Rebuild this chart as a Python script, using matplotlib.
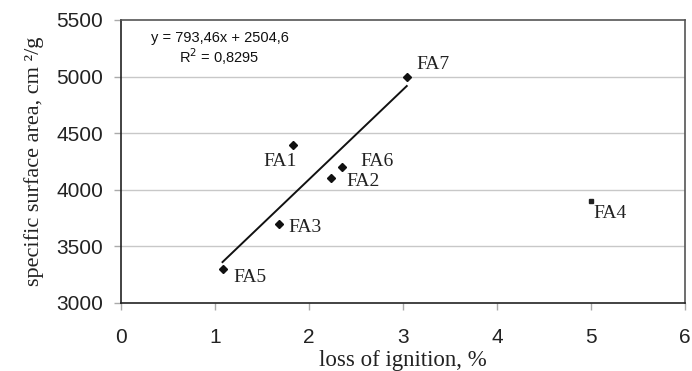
import matplotlib
matplotlib.use("Agg")
import matplotlib.pyplot as plt
import numpy as np

labels = ["FA1", "FA2", "FA3", "FA4", "FA5", "FA6", "FA7"]
loi = [1.83, 2.23, 1.68, 5.0, 1.08, 2.35, 3.04]
ssa = [4400, 4100, 3700, 3900, 3300, 4200, 5000]
slope, intercept = 793.46, 2504.6
r2 = 0.8295
xticks = [0, 1, 2, 3, 4, 5, 6]
yticks = [3000, 3500, 4000, 4500, 5000, 5500]

# label offsets in points (dx, dy, ha)
offsets = {
    "FA1": (3, -12, "right"),
    "FA2": (11.5, -2, "left"),
    "FA3": (6.5, -3, "left"),
    "FA4": (2, -9, "left"),
    "FA5": (8, -6, "left"),
    "FA6": (13, 4, "left"),
    "FA7": (7, 8.5, "left"),
}

fig = plt.figure(figsize=(6.92, 3.71), dpi=100)
ax = fig.add_axes([121/692, 1-303/371, (685-121)/692, (303-20)/371])

serif = ["Liberation Serif", "DejaVu Serif"]
sans = ["Liberation Sans", "DejaVu Sans"]

for yv in yticks[1:-1]:
    ax.axhline(yv, color="#c8c8c8", lw=1.0, zorder=0)

for lab, xv, yv in zip(labels, loi, ssa):
    if lab == "FA4":
        ax.plot(xv, yv, marker="s", ms=3.5, color="#222222", ls="none", zorder=3)
    else:
        ax.plot(xv, yv, marker="D", ms=4, color="#111111", ls="none", zorder=3)
    dx, dy, ha = offsets[lab]
    ax.annotate(lab, (xv, yv), xytext=(dx, dy), textcoords="offset points",
                ha=ha, va="center", fontsize=14, family=serif, color="#222222")

fit_x = [x for x, l in zip(loi, labels) if l != "FA4"]
xl = np.array([min(fit_x), max(fit_x)])
ax.plot(xl, slope * xl + intercept, color="#111111", lw=1.4, zorder=2)

ax.text(0.175, 0.936, "y = 793,46x + 2504,6", transform=ax.transAxes,
        ha="center", va="center", fontsize=10.5, family=sans, color="#111111")
ax.text(0.175, 0.869, "R$^2$ = 0,8295", transform=ax.transAxes,
        ha="center", va="center", fontsize=10.5, family=sans, color="#111111")

ax.set_xlim(0, 6)
ax.set_ylim(3000, 5500)
ax.set_xticks(xticks)
ax.set_yticks(yticks)
ax.tick_params(direction="out", length=5, color="#aaaaaa", width=1,
               labelsize=15, labelcolor="#222222")
ax.tick_params(axis="y", pad=8)
ax.tick_params(axis="x", pad=13)
for t in ax.get_xticklabels() + ax.get_yticklabels():
    t.set_family(sans)

for s in ["left", "bottom"]:
    ax.spines[s].set_color("#222222")
    ax.spines[s].set_linewidth(1.2)
for s in ["top", "right"]:
    ax.spines[s].set_color("#555555")
    ax.spines[s].set_linewidth(1.2)

ax.set_xlabel("loss of ignition, %", fontsize=16.5, family=serif, color="#222222", labelpad=2)
ax.set_ylabel("specific surface area, cm ²/g", fontsize=16, family=serif, color="#222222", labelpad=9)

fig.savefig("out.png", dpi=100)
